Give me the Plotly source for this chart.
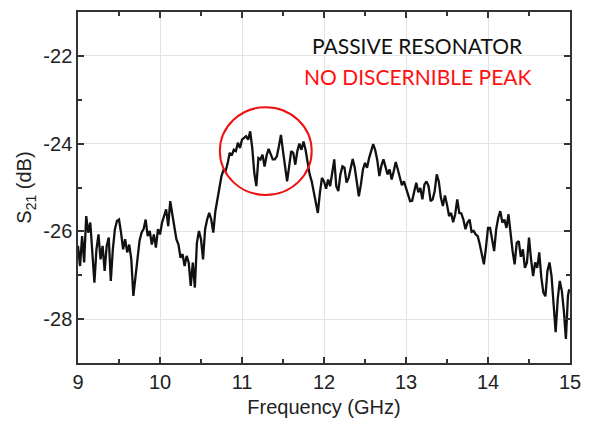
import plotly.graph_objects as go

freq_ghz = [
    9.000, 9.025, 9.050, 9.075, 9.100, 9.125, 9.150, 9.175, 9.200, 9.225,
    9.250, 9.275, 9.300, 9.325, 9.350, 9.375, 9.400, 9.425, 9.450, 9.475,
    9.500, 9.525, 9.550, 9.575, 9.600, 9.625, 9.650, 9.675, 9.700, 9.725,
    9.750, 9.775, 9.800, 9.825, 9.850, 9.875, 9.900, 9.925, 9.950, 9.975,
    10.000, 10.025, 10.050, 10.075, 10.100, 10.125, 10.150, 10.175, 10.200, 10.225,
    10.250, 10.275, 10.300, 10.325, 10.350, 10.375, 10.400, 10.425, 10.450, 10.475,
    10.500, 10.525, 10.550, 10.575, 10.600, 10.625, 10.650, 10.675, 10.700, 10.725,
    10.750, 10.775, 10.800, 10.825, 10.850, 10.875, 10.900, 10.925, 10.950, 10.975,
    11.000, 11.025, 11.050, 11.075, 11.100, 11.125, 11.150, 11.175, 11.200, 11.225,
    11.250, 11.275, 11.300, 11.325, 11.350, 11.375, 11.400, 11.425, 11.450, 11.475,
    11.500, 11.525, 11.550, 11.575, 11.600, 11.625, 11.650, 11.675, 11.700, 11.725,
    11.750, 11.775, 11.800, 11.825, 11.850, 11.875, 11.900, 11.925, 11.950, 11.975,
    12.000, 12.025, 12.050, 12.075, 12.100, 12.125, 12.150, 12.175, 12.200, 12.225,
    12.250, 12.275, 12.300, 12.325, 12.350, 12.375, 12.400, 12.425, 12.450, 12.475,
    12.500, 12.525, 12.550, 12.575, 12.600, 12.625, 12.650, 12.675, 12.700, 12.725,
    12.750, 12.775, 12.800, 12.825, 12.850, 12.875, 12.900, 12.925, 12.950, 12.975,
    13.000, 13.025, 13.050, 13.075, 13.100, 13.125, 13.150, 13.175, 13.200, 13.225,
    13.250, 13.275, 13.300, 13.325, 13.350, 13.375, 13.400, 13.425, 13.450, 13.475,
    13.500, 13.525, 13.550, 13.575, 13.600, 13.625, 13.650, 13.675, 13.700, 13.725,
    13.750, 13.775, 13.800, 13.825, 13.850, 13.875, 13.900, 13.925, 13.950, 13.975,
    14.000, 14.025, 14.050, 14.075, 14.100, 14.125, 14.150, 14.175, 14.200, 14.225,
    14.250, 14.275, 14.300, 14.325, 14.350, 14.375, 14.400, 14.425, 14.450, 14.475,
    14.500, 14.525, 14.550, 14.575, 14.600, 14.625, 14.650, 14.675, 14.700, 14.725,
    14.750, 14.775, 14.800, 14.825, 14.850, 14.875, 14.900, 14.925, 14.950, 14.975,
    14.990,
]

s21_db = [
    -26.33, -26.79, -26.11, -26.71, -25.65, -26.03, -25.80, -26.48, -27.17, -26.41,
    -26.07, -26.64, -26.33, -26.90, -26.33, -26.14, -27.13, -26.41, -25.95, -25.76,
    -25.73, -26.03, -26.41, -26.18, -26.48, -26.30, -26.64, -27.47, -27.02, -26.71,
    -26.22, -26.03, -25.95, -25.73, -26.11, -25.99, -26.30, -26.07, -26.37, -25.95,
    -26.07, -25.80, -25.65, -25.50, -25.88, -25.31, -25.61, -25.92, -26.18, -26.30,
    -26.60, -26.52, -26.79, -26.56, -26.71, -27.24, -26.71, -27.28, -26.26, -25.99,
    -26.18, -26.64, -25.95, -25.73, -25.58, -25.73, -26.03, -25.54, -25.27, -24.93,
    -24.74, -24.60, -24.63, -24.45, -24.21, -24.27, -24.14, -24.17, -23.98, -24.10,
    -23.91, -23.87, -23.83, -23.91, -23.72, -24.10, -24.67, -24.97, -24.33, -24.36,
    -24.25, -24.52, -24.27, -24.12, -24.23, -24.36, -24.36, -24.29, -24.06, -23.80,
    -24.17, -24.48, -24.86, -24.52, -24.17, -24.21, -24.48, -24.17, -24.00, -24.14,
    -23.95, -24.14, -24.48, -24.70, -24.86, -25.12, -25.39, -25.58, -25.12, -24.78,
    -24.86, -25.03, -24.82, -24.97, -24.67, -24.36, -24.97, -25.08, -24.70, -24.52,
    -24.55, -24.89, -24.78, -24.55, -24.35, -24.55, -24.93, -25.20, -24.93, -24.59,
    -24.44, -24.55, -24.33, -24.17, -24.01, -24.15, -24.38, -24.74, -24.50, -24.36,
    -24.55, -24.70, -24.59, -24.82, -24.63, -24.42, -24.59, -24.78, -24.95, -24.86,
    -25.03, -25.18, -25.31, -25.30, -25.06, -24.89, -25.11, -25.01, -25.27, -24.93,
    -24.86, -24.97, -25.31, -25.27, -25.08, -24.70, -24.86, -25.23, -25.42, -25.18,
    -25.39, -25.65, -25.58, -25.79, -25.61, -25.27, -25.58, -25.59, -25.73, -25.95,
    -25.80, -25.73, -26.01, -25.99, -26.07, -26.11, -26.30, -26.54, -26.75, -26.37,
    -25.92, -25.92, -26.18, -26.45, -25.95, -25.69, -25.54, -25.80, -25.73, -25.92,
    -25.61, -26.07, -26.45, -26.75, -26.26, -26.22, -26.58, -26.41, -26.83, -26.71,
    -26.14, -26.64, -27.02, -26.71, -26.83, -26.48, -27.05, -27.39, -27.48, -26.90,
    -26.71, -27.02, -27.70, -28.30, -27.55, -27.13, -27.35, -27.81, -28.45, -27.47,
    -27.32,
]

x_ticks = [9, 10, 11, 12, 13, 14, 15]
y_ticks = [-28, -26, -24, -22]

title_line = "PASSIVE RESONATOR"
note_line = "NO DISCERNIBLE PEAK"

fig = go.Figure()
fig.add_trace(go.Scatter(
    x=freq_ghz, y=s21_db, mode="lines",
    line=dict(color="#111111", width=2.3),
    showlegend=False, hoverinfo="x+y",
))

tick_font = dict(family="Liberation Sans, Arial, sans-serif", size=20, color="#222222")
title_font = dict(family="Liberation Sans, Arial, sans-serif", size=20, color="#222222")

fig.update_xaxes(
    range=[9, 15], tickvals=x_ticks, ticktext=[str(v) for v in x_ticks],
    ticks="inside", ticklen=6, tickwidth=1.5, tickcolor="#333333",
    showline=True, linecolor="#333333", linewidth=1.5, mirror="ticks",
    showgrid=True, gridcolor="#e3e3e3", gridwidth=1,
    minor=dict(dtick=0.5, tick0=9, ticks="inside", ticklen=4, tickcolor="#333333", showgrid=False),
    tickfont=tick_font, zeroline=False, automargin=False,
    title=dict(text="Frequency (GHz)", font=title_font, standoff=8),
)
fig.update_yaxes(
    range=[-29, -21], tickvals=y_ticks, ticktext=[str(v) for v in y_ticks],
    ticks="inside", ticklen=6, tickwidth=1.5, tickcolor="#333333",
    showline=True, linecolor="#333333", linewidth=1.5, mirror="ticks",
    showgrid=True, gridcolor="#e3e3e3", gridwidth=1,
    minor=dict(dtick=1, tick0=-29, ticks="inside", ticklen=4, tickcolor="#333333", showgrid=False),
    tickfont=tick_font, zeroline=False, automargin=False,
    title=dict(text="S<sub>21</sub> (dB)", font=title_font, standoff=6),
)

fig.add_shape(
    type="circle", xref="x", yref="y",
    x0=10.73, x1=11.85, y0=-25.17, y1=-23.17,
    line=dict(color="#ee1111", width=2),
)

fig.add_annotation(
    x=13.14, y=-21.77, xref="x", yref="y", text=title_line, showarrow=False,
    font=dict(family="Lato, Open Sans, sans-serif", size=21, color="#111111"),
)
fig.add_annotation(
    x=13.15, y=-22.48, xref="x", yref="y", text=note_line, showarrow=False,
    font=dict(family="Lato, Open Sans, sans-serif", size=21, color="#ff1010"),
)

fig.update_layout(
    width=592, height=422,
    margin=dict(l=70, r=30, t=4, b=67),
    paper_bgcolor="white", plot_bgcolor="white",
)

fig.write_html("out.html")
